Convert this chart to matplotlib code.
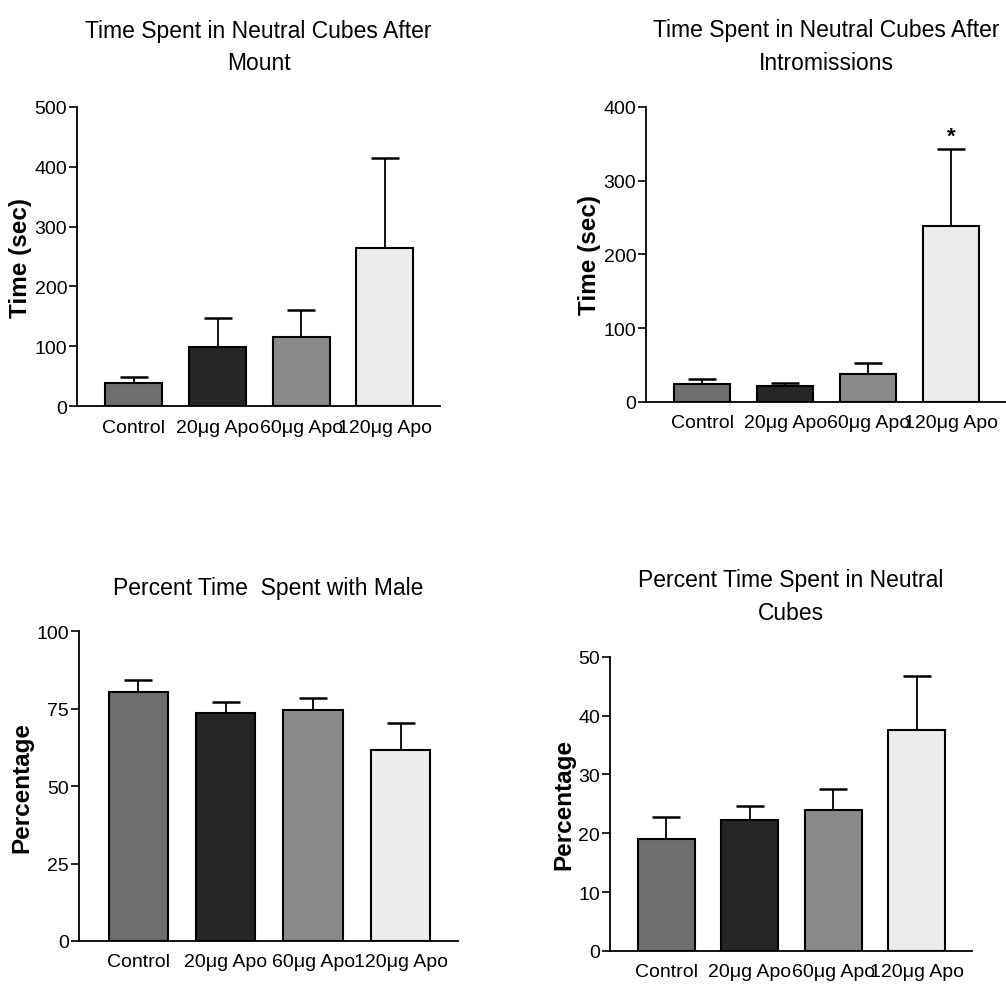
import matplotlib
matplotlib.use('Agg')
import matplotlib.pyplot as plt
import numpy as np

## DATA
groups = ['Control', '20\u03bcg Apo', '60\u03bcg Apo', '120\u03bcg Apo']
bar_colors = ['#6e6e6e', '#262626', '#8a8a8a', '#ececec']

mount_mean = [38, 99, 116, 264]
mount_sem = [11, 48, 44, 151]

intro_mean = [24, 21.7, 38.4, 238]
intro_sem = [7.6, 4.3, 14.6, 105.5]

male_mean = [80.5, 73.7, 74.6, 61.5]
male_sem = [3.6, 3.4, 3.8, 9.0]

neutral_mean = [19.1, 22.2, 24.0, 37.5]
neutral_sem = [3.7, 2.5, 3.6, 9.2]
#

plt.rcParams['font.family'] = ['Liberation Sans', 'DejaVu Sans']

fig = plt.figure(figsize=(10.06, 9.87), dpi=100)


def panel(rect, means, sems, title, ylabel, ymax, yticks, star=None):
    ax = fig.add_axes(rect)
    x = np.arange(len(groups))
    ax.bar(x, means, width=0.68, color=bar_colors, edgecolor='black', linewidth=1.5, zorder=2)
    ax.errorbar(x, means, yerr=[np.zeros(len(sems)), sems], fmt='none',
                ecolor='black', elinewidth=1.3, capsize=10, capthick=1.8, zorder=1)
    ax.set_xlim(-0.68, 3.66)
    ax.set_ylim(0, ymax)
    ax.set_yticks(yticks)
    ax.set_xticks(x)
    ax.set_xticklabels(groups, fontsize=14)
    ax.tick_params(axis='x', length=0, pad=9)
    ax.tick_params(axis='y', labelsize=14, length=6, width=1.2, pad=1)
    for s in ['top', 'right']:
        ax.spines[s].set_visible(False)
    for s in ['left', 'bottom']:
        ax.spines[s].set_linewidth(1.3)
    ax.set_ylabel(ylabel, fontsize=17.5, fontweight='bold', labelpad=2)
    ax.set_title(title, fontsize=16.5, pad=27, linespacing=1.55)
    if star is not None:
        ax.text(star, means[star] + sems[star] + 17, '*', ha='center', va='center',
                fontsize=16, fontweight='bold')
    return ax


panel([0.0765, 0.5876, 0.361, 0.303], mount_mean, mount_sem,
      'Time Spent in Neutral Cubes After\nMount', 'Time (sec)', 500, [0, 100, 200, 300, 400, 500])
panel([0.642, 0.5917, 0.358, 0.299], intro_mean, intro_sem,
      'Time Spent in Neutral Cubes After\nIntromissions', 'Time (sec)', 400, [0, 100, 200, 300, 400], star=3)
panel([0.0785, 0.0456, 0.377, 0.314], male_mean, male_sem,
      'Percent Time  Spent with Male', 'Percentage', 100, [0, 25, 50, 75, 100])
panel([0.606, 0.0355, 0.360, 0.298], neutral_mean, neutral_sem,
      'Percent Time Spent in Neutral\nCubes', 'Percentage', 50, [0, 10, 20, 30, 40, 50])

plt.savefig('out.png', dpi=100)
